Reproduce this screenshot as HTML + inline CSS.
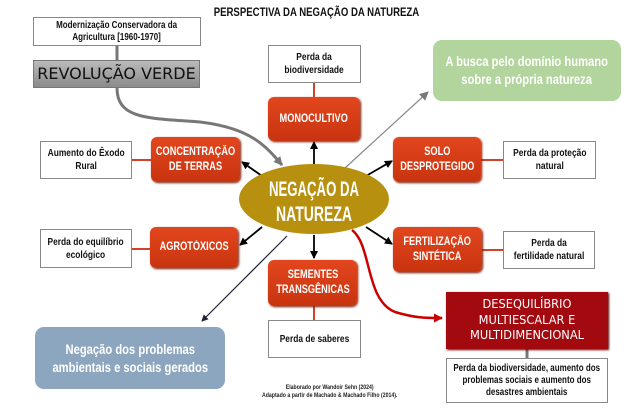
<!DOCTYPE html>
<html><head><meta charset="utf-8"><style>
body{margin:0;width:632px;height:413px;background:#fff;position:relative;overflow:hidden;font-family:"Liberation Sans",sans-serif;font-weight:bold}
.b{position:absolute;box-sizing:border-box;display:flex;align-items:center;justify-content:center;text-align:center;line-height:1.2}
.b>span{display:inline-block;transform:scaleX(.8);white-space:nowrap}
.w{background:#fff;border:1px solid #888;color:#111;font-size:10.5px}
.o{background:linear-gradient(#e2461e,#c8340f);border-radius:6px;color:#fff;font-size:11.5px;box-shadow:1px 1px 2px #7a1a05;line-height:1.3}
svg{position:absolute;left:0;top:0}
</style></head><body>
<svg width="632" height="413">
<defs>
<marker id="ak" markerWidth="8" markerHeight="8" refX="7" refY="4" orient="auto" markerUnits="userSpaceOnUse"><path d="M0,0L8,4L0,8z" fill="#000"/></marker>
<marker id="ag" markerWidth="9" markerHeight="9" refX="8" refY="4.5" orient="auto" markerUnits="userSpaceOnUse"><path d="M0,0L9,4.5L0,9z" fill="#777"/></marker>
<marker id="ar" markerWidth="9" markerHeight="9" refX="8" refY="4.5" orient="auto" markerUnits="userSpaceOnUse"><path d="M0,0L9,4.5L0,9z" fill="#c00"/></marker>
<marker id="ab" markerWidth="7" markerHeight="7" refX="6" refY="3.5" orient="auto" markerUnits="userSpaceOnUse"><path d="M0,0L7,3.5L0,7z" fill="#223"/></marker>
</defs>
<g stroke="#d0422a" stroke-width="2">
<line x1="314" y1="83" x2="314" y2="97"/><line x1="132" y1="160" x2="151" y2="160"/><line x1="481" y1="160" x2="503" y2="160"/>
<line x1="132" y1="249" x2="150" y2="249"/><line x1="482" y1="250" x2="503" y2="250"/><line x1="314" y1="306" x2="314" y2="320"/>
</g>
<line x1="117" y1="45" x2="117" y2="60" stroke="#777" stroke-width="3"/>
<line x1="527" y1="348" x2="527" y2="358" stroke="#777" stroke-width="3"/>
<path d="M117,88 C117,120 150,118 200,122 C250,128 265,145 282,165" fill="none" stroke="#777" stroke-width="3" marker-end="url(#ag)"/>
<line x1="345" y1="168" x2="428" y2="92" stroke="#888" stroke-width="1.2" marker-end="url(#ag)"/>
<line x1="287" y1="236" x2="202" y2="321" stroke="#223" stroke-width="1.2" marker-end="url(#ab)"/>
<path d="M352,230 C372,245 365,300 395,312 C415,318 425,318 442,318" fill="none" stroke="#c00" stroke-width="2.5" marker-end="url(#ar)"/>
<g stroke="#000" stroke-width="1.8" marker-end="url(#ak)">
<line x1="314" y1="166" x2="314" y2="142"/><line x1="262" y1="176" x2="242" y2="162"/><line x1="366" y1="176" x2="392" y2="161"/>
<line x1="262" y1="227" x2="240" y2="245"/><line x1="366" y1="227" x2="392" y2="244"/><line x1="314" y1="235" x2="314" y2="258"/>
</g>
<ellipse cx="314" cy="199" rx="75" ry="35" fill="#b8900f"/>
<text x="314" y="196" text-anchor="middle" fill="#fff" font-family="Liberation Sans,sans-serif" font-weight="bold" font-size="21" textLength="90" lengthAdjust="spacingAndGlyphs">NEGAÇÃO DA</text>
<text x="314" y="221" text-anchor="middle" fill="#fff" font-family="Liberation Sans,sans-serif" font-weight="bold" font-size="21" textLength="76" lengthAdjust="spacingAndGlyphs">NATUREZA</text>
</svg>
<div class="b" style="left:180px;top:3px;width:272px;height:18px;font-size:12px;color:#111"><span>PERSPECTIVA DA NEGAÇÃO DA NATUREZA</span></div>
<div class="b w" style="left:33px;top:17px;width:168px;height:29px;font-size:10px"><span>Modernização Conservadora da<br>Agricultura [1960-1970]</span></div>
<div class="b" style="left:33px;top:60px;width:167px;height:28px;background:linear-gradient(#bbb,#8a8a8a);border:1px solid #777;color:#111;font-family:'DejaVu Sans',sans-serif;font-weight:normal;font-size:16px">REVOLUÇÃO VERDE</div>
<div class="b w" style="left:268px;top:45px;width:93px;height:38px"><span>Perda da<br>biodiversidade</span></div>
<div class="b o" style="left:268px;top:97px;width:92px;height:44px"><span>MONOCULTIVO</span></div>
<div class="b o" style="left:151px;top:137px;width:89px;height:45px"><span>CONCENTRAÇÃO<br>DE TERRAS</span></div>
<div class="b w" style="left:40px;top:141px;width:92px;height:38px"><span>Aumento do Êxodo<br>Rural</span></div>
<div class="b" style="left:433px;top:40px;width:188px;height:61px;background:#b2d49d;border-radius:9px;color:#fff;font-size:14px;line-height:1.25"><span>A busca pelo domínio humano<br>sobre a própria natureza</span></div>
<div class="b o" style="left:393px;top:137px;width:88px;height:45px"><span>SOLO<br>DESPROTEGIDO</span></div>
<div class="b w" style="left:503px;top:141px;width:93px;height:38px"><span>Perda da proteção<br>natural</span></div>
<div class="b o" style="left:150px;top:227px;width:88px;height:41px"><span>AGROTÓXICOS</span></div>
<div class="b w" style="left:40px;top:229px;width:92px;height:39px"><span>Perda do equilíbrio<br>ecológico</span></div>
<div class="b o" style="left:393px;top:227px;width:89px;height:45px"><span>FERTILIZAÇÃO<br>SINTÉTICA</span></div>
<div class="b w" style="left:503px;top:231px;width:92px;height:38px"><span>Perda da<br>fertilidade natural</span></div>
<div class="b o" style="left:268px;top:260px;width:89px;height:46px"><span>SEMENTES<br>TRANSGÊNICAS</span></div>
<div class="b w" style="left:268px;top:320px;width:93px;height:38px"><span>Perda de saberes</span></div>
<div class="b" style="left:446px;top:292px;width:162px;height:57px;background:#a30a10;color:#fff;font-family:'DejaVu Sans',sans-serif;font-weight:normal;font-size:12px;line-height:1.3;box-shadow:1px 1px 2px #500"><span style="transform:scaleX(.95)">DESEQUILÍBRIO<br>MULTIESCALAR E<br>MULTIDIMENCIONAL</span></div>
<div class="b w" style="left:446px;top:358px;width:162px;height:45px;font-size:10px"><span>Perda da biodiversidade, aumento dos<br>problemas sociais e aumento dos<br>desastres ambientais</span></div>
<div class="b" style="left:35px;top:327px;width:190px;height:62px;background:#8ca6bf;border-radius:9px;color:#fff;font-size:14px;line-height:1.3"><span>Negação dos problemas<br>ambientais e sociais gerados</span></div>
<div class="b" style="left:250px;top:381px;width:160px;height:22px;font-size:6.5px;color:#222;line-height:1.3"><span>Elaborado por Wandoir Sehn (2024)<br>Adaptado a partir de Machado &amp; Machado Filho (2014).</span></div>
</body></html>
